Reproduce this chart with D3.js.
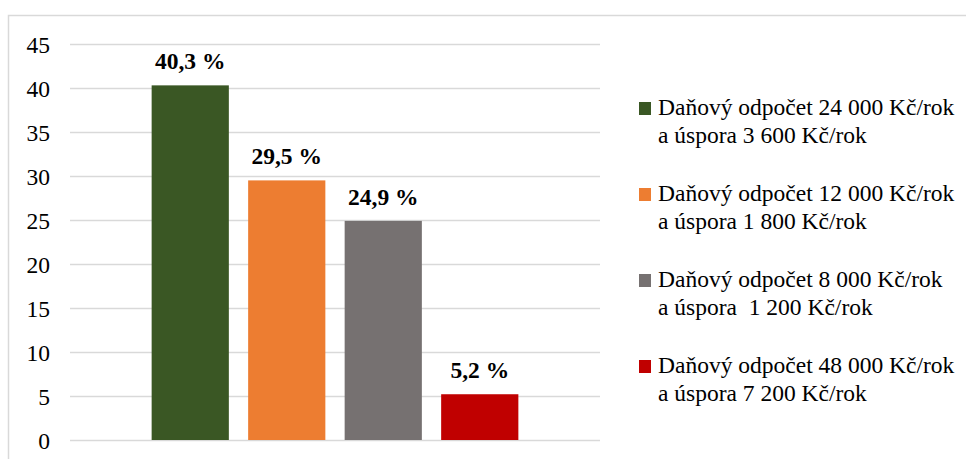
<!DOCTYPE html>
<html>
<head>
<meta charset="utf-8">
<script src="https://cdn.jsdelivr.net/npm/d3@7"></script>
<style>
  body { margin: 0; background: #fff; }
</style>
</head>
<body>
<script>
// shares of respondents choosing each option (percent)
var series = ['d24000', 'd12000', 'd8000', 'd48000'];
var values = [40.3, 29.5, 24.9, 5.2];
var labels = ['40,3 %', '29,5 %', '24,9 %', '5,2 %'];
var colors = ['#3A5724', '#ED7D31', '#767171', '#C00000'];
var legendLine1 = [
  'Daňový odpočet 24 000 Kč/rok',
  'Daňový odpočet 12 000 Kč/rok',
  'Daňový odpočet 8 000 Kč/rok',
  'Daňový odpočet 48 000 Kč/rok'
];
var legendLine2 = [
  'a úspora 3 600 Kč/rok',
  'a úspora 1 800 Kč/rok',
  'a úspora  1 200 Kč/rok',
  'a úspora 7 200 Kč/rok'
];
var yTicks = [0, 5, 10, 15, 20, 25, 30, 35, 40, 45];

var W = 966, H = 459;
var FONT = 'Liberation Serif';
var FS = 23.5;

var svg = d3.select('body')
  .append('svg')
    .attr('width', W)
    .attr('height', H);

// chart frame
svg.append('rect')
  .attr('x', 8.5)
  .attr('y', 15.5)
  .attr('width', 970)
  .attr('height', 470)
  .attr('fill', 'none')
  .attr('stroke', '#D9D9D9')
  .attr('stroke-width', 1.5);

var y = d3.scaleLinear()
  .domain([0, 45])
  .range([440, 44]);

var x = d3.scaleBand()
  .domain(series)
  .range([70, 600])
  .paddingInner(0.2)
  .paddingOuter(0.846);

// gridlines
svg.append('g')
  .selectAll('line')
  .data(yTicks)
  .enter().append('line')
    .attr('x1', 70)
    .attr('x2', 600)
    .attr('y1', d => Math.round(y(d)) + 0.5)
    .attr('y2', d => Math.round(y(d)) + 0.5)
    .attr('stroke', '#D9D9D9')
    .attr('stroke-width', 1.5);

// y axis labels
var yAxis = d3.axisLeft(y)
  .tickValues(yTicks)
  .tickSize(0)
  .tickPadding(0);

svg.append('g')
  .attr('transform', 'translate(50,0)')
  .call(yAxis)
  .attr('font-family', FONT)
  .attr('font-size', FS)
  .call(g => g.select('.domain').remove())
  .call(g => g.selectAll('text')
    .attr('fill', '#000')
    .attr('dy', '0.34em'));

// bars
svg.append('g')
  .selectAll('rect')
  .data(values)
  .enter().append('rect')
    .attr('x', (d, i) => x(series[i]))
    .attr('y', d => y(d))
    .attr('width', x.bandwidth())
    .attr('height', d => y(0) - y(d))
    .attr('fill', (d, i) => colors[i]);

// value labels
svg.append('g')
  .selectAll('text')
  .data(values)
  .enter().append('text')
    .attr('x', (d, i) => x(series[i]) + x.bandwidth() / 2)
    .attr('y', d => y(d) - 16)
    .attr('text-anchor', 'middle')
    .attr('font-family', FONT)
    .attr('font-weight', 'bold')
    .attr('font-size', FS)
    .text((d, i) => labels[i]);

// legend
var legend = svg.append('g')
  .selectAll('g')
  .data(series)
  .enter().append('g')
    .attr('transform', (d, i) => 'translate(639,' + (115 + i * 86) + ')');

legend.append('rect')
  .attr('x', 0)
  .attr('y', -13)
  .attr('width', 12)
  .attr('height', 13)
  .attr('fill', (d, i) => colors[i]);

legend.append('text')
  .attr('x', 19)
  .attr('y', 0)
  .attr('font-family', FONT)
  .attr('font-size', FS)
  .style('white-space', 'pre')
  .text((d, i) => legendLine1[i]);

legend.append('text')
  .attr('x', 19)
  .attr('y', 28)
  .attr('font-family', FONT)
  .attr('font-size', FS)
  .style('white-space', 'pre')
  .text((d, i) => legendLine2[i]);
</script>
</body>
</html>
